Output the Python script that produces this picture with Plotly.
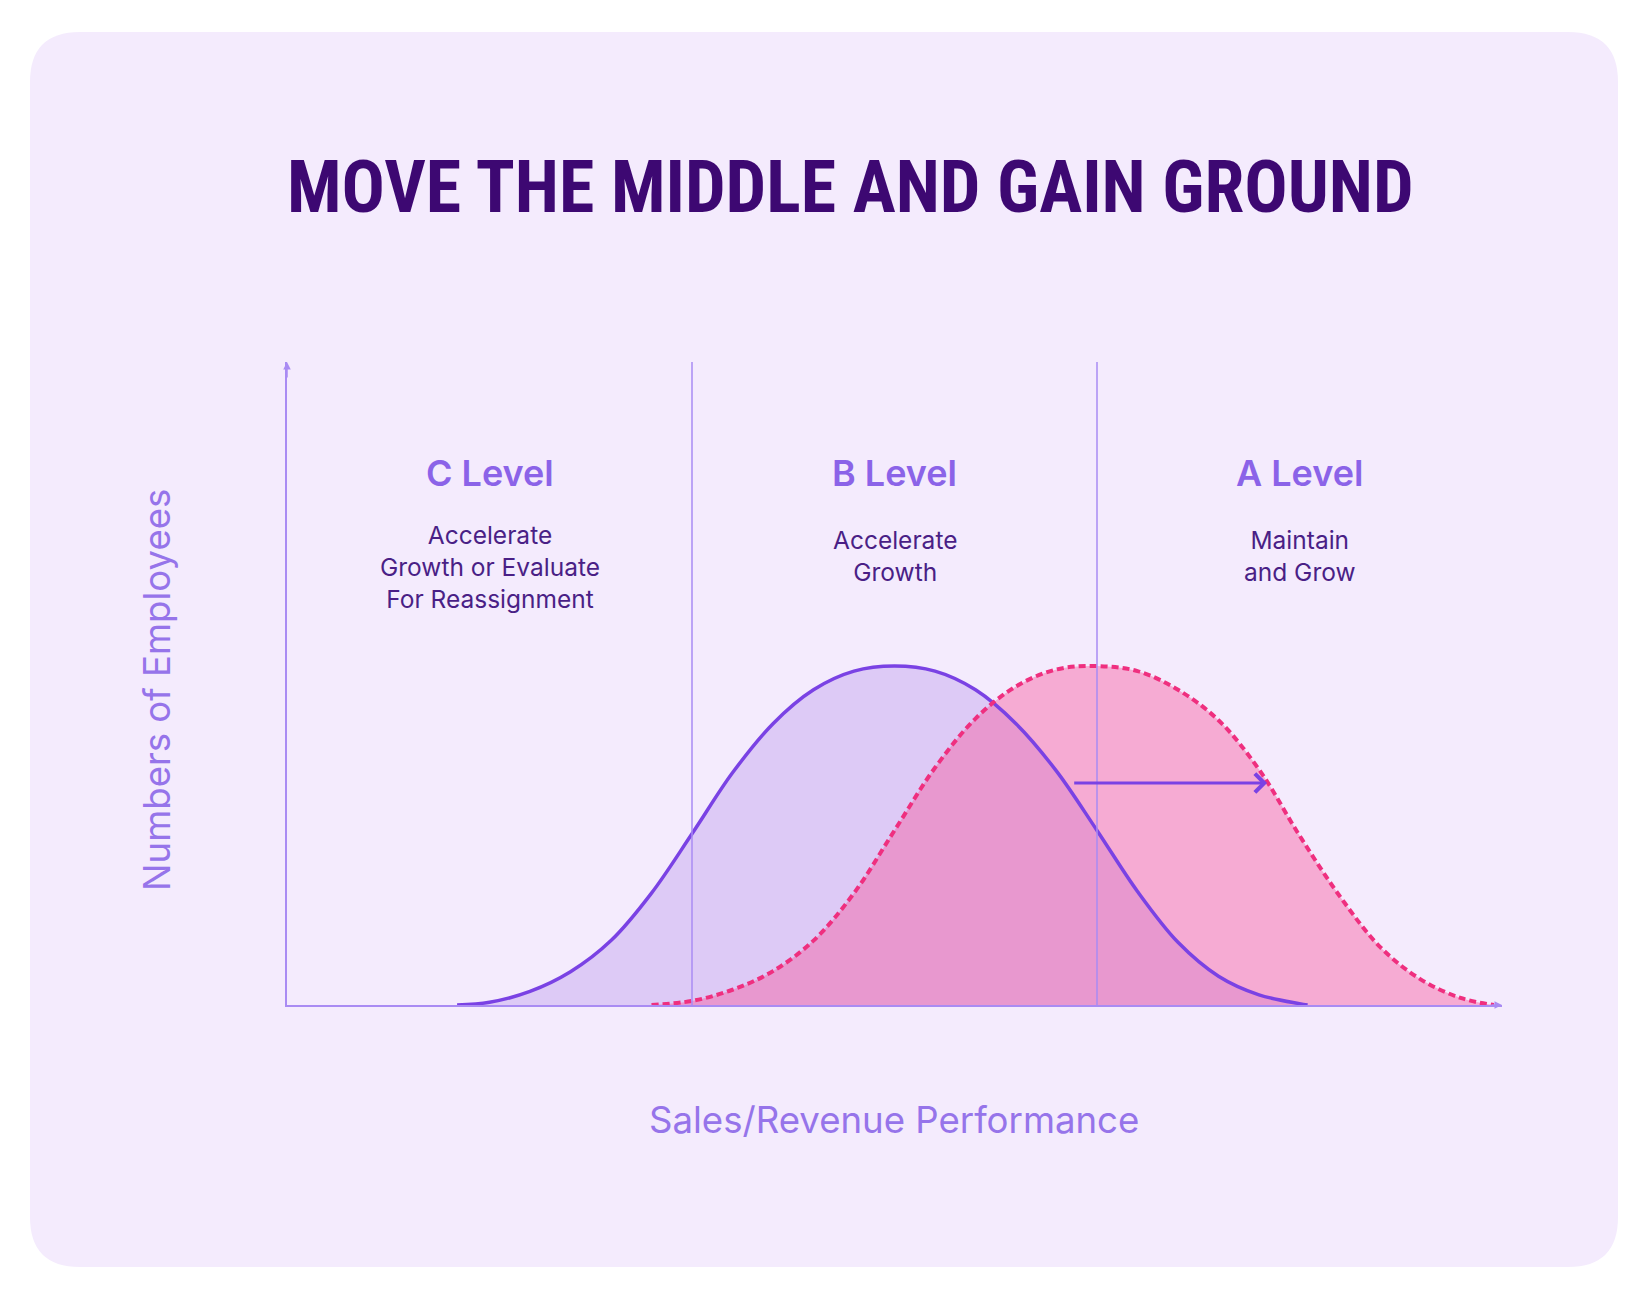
import plotly.graph_objects as go

W, H = 1644, 1308

# ---------------- data ----------------
title_text = "MOVE THE MIDDLE AND GAIN GROUND"
level_names = ["C Level", "B Level", "A Level"]
level_notes = ["Accelerate<br>Growth or Evaluate<br>For Reassignment",
               "Accelerate<br>Growth",
               "Maintain<br>and Grow"]
level_centers = [0.5, 1.5, 2.5]
dividers = [1, 2]
x_label = "Sales/Revenue Performance"
y_label = "Numbers of Employees"

# current distribution (solid purple)
current_x = [0.42, 0.50, 0.60, 0.70, 0.80, 0.90, 1.00, 1.10, 1.20, 1.30, 1.40, 1.50,
             1.60, 1.70, 1.80, 1.90, 2.00, 2.10, 2.20, 2.30, 2.40, 2.50, 2.52]
current_y = [0.0, 0.8, 4.0, 9.8, 19.0, 33.0, 50.5, 68.5, 83.0, 93.0, 98.5, 100.0,
             98.5, 93.0, 83.0, 69.0, 51.5, 33.5, 18.5, 8.5, 3.0, 0.4, 0.0]

# shifted distribution (dashed pink)
target_x = [0.90, 1.00, 1.10, 1.20, 1.30, 1.40, 1.50, 1.60, 1.70, 1.80, 1.90, 2.00,
            2.10, 2.20, 2.30, 2.40, 2.50, 2.60, 2.70, 2.80, 2.90, 2.98]
target_y = [0.0, 1.2, 4.5, 10.0, 19.0, 33.0, 51.5, 70.0, 84.5, 94.0, 99.0, 100.0,
            98.5, 93.0, 84.0, 69.5, 50.0, 32.0, 17.0, 7.5, 2.0, 0.0]

arrow_start_x, arrow_end_x, arrow_y = 1.94, 2.42, 65.5

X_MAX, Y_MAX = 3.0, 189.7

# ---------------- colours ----------------
BG = "#F4EBFD"
PURPLE = "#7A42E4"
PURPLE_FILL = "#DDCAF6"
PINK = "#EF2F7F"
PINK_FILL = "rgba(247,84,153,0.42)"
AXIS = "#A98BF3"
TITLE = "#3D0872"
HEAD = "#8B63E8"
NOTE = "#4A1F86"
LABEL = "#9674EA"


def px(x):
    return x / W


def py(y):
    return 1 - y / H


fig = go.Figure()

fig.add_trace(go.Scatter(x=current_x, y=current_y, mode="lines", fill="tozeroy",
                         fillcolor=PURPLE_FILL, line=dict(width=0, shape="spline"),
                         hoverinfo="skip", showlegend=False))
fig.add_trace(go.Scatter(x=target_x, y=target_y, mode="lines", fill="tozeroy",
                         fillcolor=PINK_FILL, line=dict(width=0, shape="spline"),
                         hoverinfo="skip", showlegend=False))
fig.add_trace(go.Scatter(x=current_x, y=current_y, mode="lines",
                         line=dict(color=PURPLE, width=3.5, shape="spline"),
                         hoverinfo="skip", showlegend=False))
fig.add_trace(go.Scatter(x=target_x, y=target_y, mode="lines",
                         line=dict(color=PINK, width=4, shape="spline", dash="7px,4px"),
                         hoverinfo="skip", showlegend=False))

# card background with rounded corners
x0, y0, x1, y1, r = 30, 32, 1618, 1267, 50
path = (f"M {px(x0 + r)},{py(y0)} L {px(x1 - r)},{py(y0)} Q {px(x1)},{py(y0)} {px(x1)},{py(y0 + r)} "
        f"L {px(x1)},{py(y1 - r)} Q {px(x1)},{py(y1)} {px(x1 - r)},{py(y1)} "
        f"L {px(x0 + r)},{py(y1)} Q {px(x0)},{py(y1)} {px(x0)},{py(y1 - r)} "
        f"L {px(x0)},{py(y0 + r)} Q {px(x0)},{py(y0)} {px(x0 + r)},{py(y0)} Z")
shapes = [dict(type="path", path=path, xref="paper", yref="paper",
               fillcolor=BG, line=dict(width=0), layer="below")]
for d in dividers:
    shapes.append(dict(type="line", xref="x", yref="y", x0=d, x1=d, y0=0, y1=Y_MAX,
                       line=dict(color=AXIS, width=1.5), layer="above"))

annotations = []
annotations.append(dict(text=f"<b>{title_text}</b>", xref="paper", yref="paper",
                        x=px(850), y=py(187), xanchor="center", yanchor="middle",
                        showarrow=False,
                        font=dict(family="Roboto Condensed, DejaVu Sans Condensed", size=72,
                                  color=TITLE)))
note_tops = [518, 523, 523]
for c, name, note, top in zip(level_centers, level_names, level_notes, note_tops):
    annotations.append(dict(text=name, xref="x", yref="paper", x=c, y=py(473),
                            xanchor="center", yanchor="middle", showarrow=False,
                            font=dict(family="Inter", size=36, color=HEAD, weight=600)))
    annotations.append(dict(text=note, xref="x", yref="paper", x=c, y=py(top),
                            xanchor="center", yanchor="top", showarrow=False,
                            font=dict(family="Inter", size=24.5, color=NOTE)))
annotations.append(dict(text=x_label, xref="paper", yref="paper", x=px(894), y=py(1120),
                        xanchor="center", yanchor="middle", showarrow=False,
                        font=dict(family="Inter", size=36.6, color=LABEL)))
annotations.append(dict(text=y_label, xref="paper", yref="paper", x=px(157), y=py(690),
                        xanchor="center", yanchor="middle", showarrow=False, textangle=-90,
                        font=dict(family="Inter", size=36.6, color=LABEL)))
# axis arrowheads
annotations.append(dict(x=X_MAX, y=0, ax=X_MAX - 0.03, ay=0, xref="x", yref="y",
                        axref="x", ayref="y", text="", showarrow=True, arrowhead=2,
                        arrowsize=1, arrowwidth=1.5, arrowcolor=AXIS))
annotations.append(dict(x=0, y=Y_MAX, ax=0, ay=Y_MAX - 5, xref="x", yref="y",
                        axref="x", ayref="y", text="", showarrow=True, arrowhead=2,
                        arrowsize=1, arrowwidth=1.5, arrowcolor=AXIS))
# shift arrow
annotations.append(dict(x=arrow_end_x, y=arrow_y, ax=arrow_start_x, ay=arrow_y,
                        xref="x", yref="y", axref="x", ayref="y", text="",
                        showarrow=True, arrowhead=4, arrowsize=1.2, arrowwidth=3,
                        arrowcolor=PURPLE))

fig.update_layout(
    width=W, height=H,
    margin=dict(l=0, r=0, t=0, b=0),
    paper_bgcolor="white",
    plot_bgcolor="rgba(0,0,0,0)",
    shapes=shapes,
    annotations=annotations,
    showlegend=False,
    xaxis=dict(domain=[px(287), px(1502)], range=[0, X_MAX], showgrid=False,
               zeroline=False, showticklabels=False, ticks="", showline=True,
               linecolor=AXIS, linewidth=1.5, fixedrange=True),
    yaxis=dict(domain=[py(1005), py(362)], range=[0, Y_MAX], showgrid=False,
               zeroline=False, showticklabels=False, ticks="", showline=True,
               linecolor=AXIS, linewidth=1.5, fixedrange=True),
)

fig.write_html("out.html", config=dict(displayModeBar=False))
